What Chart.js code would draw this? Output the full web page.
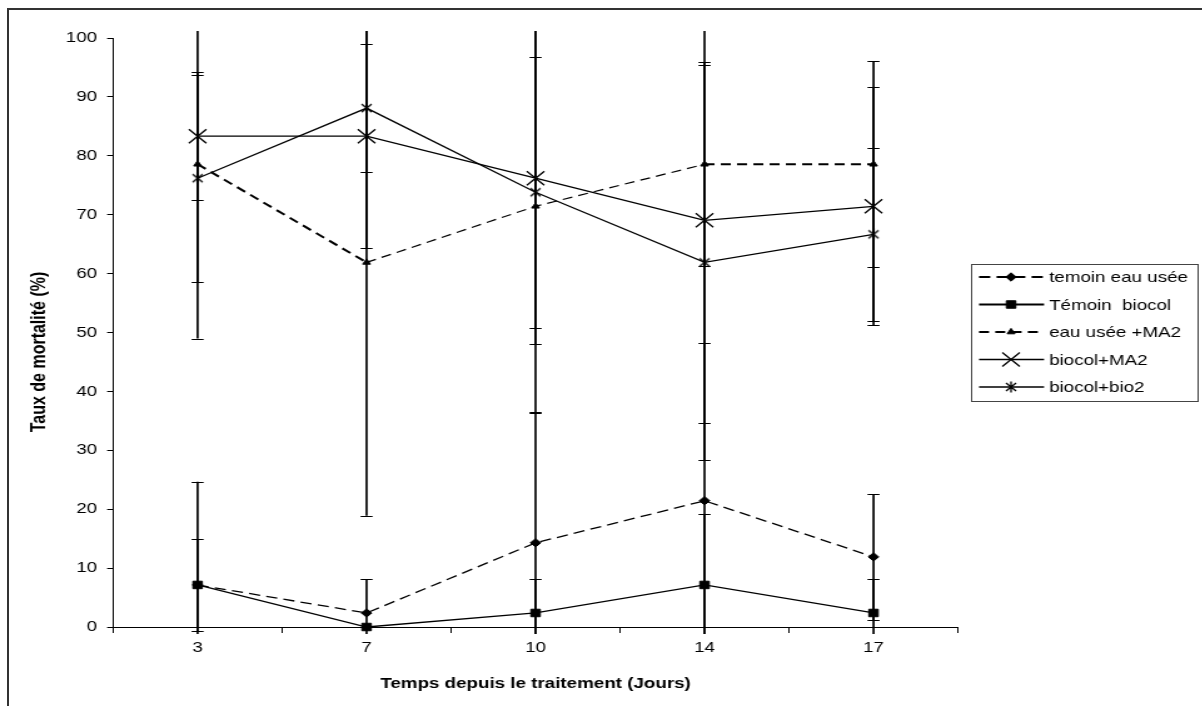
<!DOCTYPE html>
<html><head><meta charset="utf-8">
<script src="https://cdn.jsdelivr.net/npm/chart.js@4.4.1/dist/chart.umd.min.js"></script>
<style>
html,body{margin:0;padding:0;background:#fff;overflow:hidden;width:1202px;height:706px;}
#frame{position:absolute;left:7px;top:8px;width:1300px;height:800px;border-left:2px solid #333;border-top:2px solid #333;}
#wrap{position:absolute;left:0;top:0;width:961.6px;height:706px;transform:scaleX(1.25);transform-origin:0 0;}
</style></head><body>
<div id="frame"></div>
<div id="wrap"><canvas id="c"></canvas></div>
<script>
// ---- data ----
const categories = ['3', '7', '10', '14', '17'];
const seriesNames = ['temoin eau usée', 'Témoin  biocol', 'eau usée +MA2', 'biocol+MA2', 'biocol+bio2'];
const temoinEauUsee    = [7.14, 2.38, 14.29, 21.43, 11.90];
const temoinBiocol     = [7.14, 0.00, 2.38, 7.14, 2.38];
const eauUseeMA2       = [78.57, 61.90, 71.43, 78.57, 78.57];
const biocolMA2        = [83.33, 83.33, 76.19, 69.05, 71.43];
const biocolBio2       = [76.19, 88.10, 73.81, 61.90, 66.67];
const temoinEauUseeErr = [7.8, 5.7, 22.1, 26.8, 10.7];
const temoinBiocolErr  = [17.5, 0.0, 5.7, 12.0, 5.7];
const eauUseeMA2Err    = [29.6, 43.0, 35.0, 17.3, 17.5];
const biocolMA2Err     = [10.9, 19.0, 28.2, 34.4, 20.2];
const biocolBio2Err    = [17.6, 10.8, 23.0, 33.6, 14.7];
const xTitle = 'Temps depuis le traitement (Jours)';
const yTitle = 'Taux de mortalité (%)';

// ---- layout / style ----
const SX = 1.25;                 // horizontal stretch of the reference picture
const W = 1202 / SX;
const FONT = "'Liberation Sans', Arial, sans-serif";
const eauUseeMA2SegWidth = [2, 1.2, 1.2, 2];

function asteriskCanvas() {
  const c = document.createElement('canvas');
  c.width = 12; c.height = 12;
  const g = c.getContext('2d');
  g.strokeStyle = '#000'; g.lineWidth = 1.3;
  g.beginPath();
  g.moveTo(2, 2); g.lineTo(10, 10);
  g.moveTo(10, 2); g.lineTo(2, 10);
  g.moveTo(6, 0.5); g.lineTo(6, 11.5);
  g.stroke();
  return c;
}
const asterisk = asteriskCanvas();

function ds(label, data, errors, extra) {
  return Object.assign({
    label, data, errors,
    borderColor: '#000', backgroundColor: '#000',
    pointBackgroundColor: '#000', pointBorderColor: '#000',
    borderWidth: 1.3, pointBorderWidth: 1, tension: 0, clip: false
  }, extra);
}

const datasets = [
  ds(seriesNames[0], temoinEauUsee, temoinEauUseeErr, {borderDash: [9, 5], pointStyle: 'rectRot', pointRadius: 4.2, legendWidth: 2}),
  ds(seriesNames[1], temoinBiocol, temoinBiocolErr, {pointStyle: 'rect', pointRadius: 5.3, legendWidth: 1.8}),
  ds(seriesNames[2], eauUseeMA2, eauUseeMA2Err, {borderDash: [8, 5], pointStyle: 'triangle', pointRadius: 3.6, legendWidth: 2,
     segment: {borderWidth: c => eauUseeMA2SegWidth[c.p0DataIndex]}}),
  ds(seriesNames[3], biocolMA2, biocolMA2Err, {pointStyle: 'crossRot', pointRadius: 9.9, pointBorderWidth: 1.3, legendWidth: 1.3}),
  ds(seriesNames[4], biocolBio2, biocolBio2Err, {pointStyle: asterisk, pointRadius: 5, legendWidth: 1.3})
];

const errorBars = {
  id: 'errorBars',
  beforeDatasetsDraw(chart) {
    const {ctx, chartArea: a, scales: {x, y}} = chart;
    ctx.save();
    ctx.beginPath();
    ctx.rect(a.left - 20, a.top - 7, a.right - a.left + 40, a.bottom - a.top + 14);
    ctx.clip();
    ctx.strokeStyle = '#000';
    chart.data.datasets.forEach(d => {
      d.data.forEach((v, j) => {
        const e = d.errors[j];
        if (!e) return;
        const px = x.getPixelForValue(j);
        const t = y.getPixelForValue(v + e), b = y.getPixelForValue(v - e);
        ctx.lineWidth = 1.7;
        ctx.beginPath(); ctx.moveTo(px, t); ctx.lineTo(px, b); ctx.stroke();
        ctx.lineWidth = 1.2;
        ctx.beginPath();
        ctx.moveTo(px - 4.8, Math.round(t) + 0.5); ctx.lineTo(px + 4.8, Math.round(t) + 0.5);
        ctx.moveTo(px - 4.8, Math.round(b) + 0.5); ctx.lineTo(px + 4.8, Math.round(b) + 0.5);
        ctx.stroke();
      });
    });
    ctx.restore();
  }
};

const legendAndTitles = {
  id: 'legendAndTitles',
  afterDraw(chart) {
    const {ctx, chartArea: a} = chart;
    ctx.save();
    // axis titles
    ctx.fillStyle = '#000';
    ctx.textAlign = 'center'; ctx.textBaseline = 'middle';
    ctx.font = 'bold 15px ' + FONT;
    ctx.fillText(xTitle, (a.left + a.right) / 2, 684);
    ctx.save();
    ctx.translate(32, 352);
    ctx.rotate(-Math.PI / 2);
    ctx.font = 'bold 16px ' + FONT;
    ctx.fillText(yTitle, 0, 0);
    ctx.restore();
    // legend
    const bx = 970 / SX, by = 264, bw = 1196 / SX - bx, bh = 401 - 264;
    ctx.strokeStyle = '#444'; ctx.lineWidth = 1;
    ctx.strokeRect(Math.round(bx) + 0.5, by + 0.5, Math.round(bw), bh);
    const x0 = 978 / SX, x1 = 1043 / SX, xm = 1010 / SX, xt = 1048 / SX;
    chart.data.datasets.forEach((d, i) => {
      const yy = 277 + 27.5 * i;
      ctx.strokeStyle = '#000'; ctx.fillStyle = '#000';
      ctx.lineWidth = d.legendWidth;
      ctx.setLineDash(d.borderDash || []);
      ctx.beginPath(); ctx.moveTo(x0, yy); ctx.lineTo(x1, yy); ctx.stroke();
      ctx.setLineDash([]);
      ctx.lineWidth = d.pointBorderWidth;
      Chart.helpers.drawPoint(ctx, {pointStyle: d.pointStyle, radius: d.pointRadius, rotation: 0, borderWidth: d.pointBorderWidth}, xm, yy);
      ctx.fillStyle = '#000';
      ctx.font = '15px ' + FONT;
      ctx.textAlign = 'left'; ctx.textBaseline = 'middle';
      ctx.fillText(d.label, xt, yy + 1);
    });
    ctx.restore();
  }
};

new Chart(document.getElementById('c'), {
  type: 'line',
  data: {labels: categories, datasets},
  options: {
    responsive: true, maintainAspectRatio: false, animation: false,
    layout: {padding: {left: 0, top: 38, right: W - 957 / SX, bottom: 0}},
    plugins: {legend: {display: false}, tooltip: {enabled: false}, title: {display: false}},
    scales: {
      x: {
        type: 'category', offset: true,
        grid: {offset: true, drawOnChartArea: false, drawTicks: true, tickLength: 6, color: '#000', lineWidth: 1},
        border: {display: true, color: '#000', width: 1},
        ticks: {color: '#000', font: {family: FONT, size: 15}, padding: 6, maxRotation: 0, autoSkip: false},
        afterFit(s) { s.height = 706 - 627; }
      },
      y: {
        min: 0, max: 100,
        grid: {drawOnChartArea: false, drawTicks: true, tickLength: 4.8, color: '#000', lineWidth: 1},
        border: {display: true, color: '#000', width: 1},
        ticks: {stepSize: 10, color: '#000', font: {family: FONT, size: 15}, padding: 8},
        afterFit(s) { s.width = 113 / SX; }
      }
    }
  },
  plugins: [errorBars, legendAndTitles]
});
</script>
</body></html>
